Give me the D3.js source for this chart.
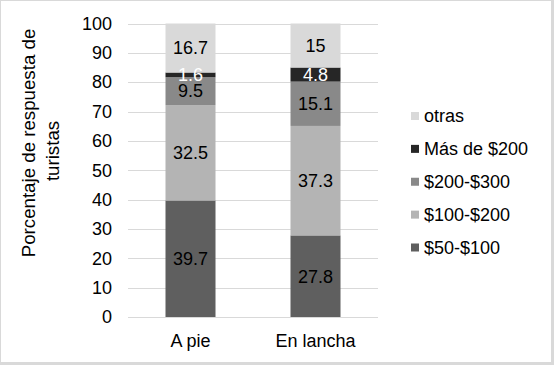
<!DOCTYPE html>
<html>
<head>
<meta charset="utf-8">
<script src="https://cdn.jsdelivr.net/npm/d3@7"></script>
<style>
  body { margin: 0; background: #fff; }
  svg text { font-family: "Liberation Sans", Arial, sans-serif; }
</style>
</head>
<body>
<svg id="chart" width="554" height="365"></svg>
<script>
// data
let categories = ['A pie', 'En lancha'];
let seriesNames = ['$50-$100', '$100-$200', '$200-$300', 'Más de $200', 'otras'];
let v50_100 = [39.7, 27.8];
let v100_200 = [32.5, 37.3];
let v200_300 = [9.5, 15.1];
let vMas200 = [1.6, 4.8];
let vOtras = [16.7, 15];
let yTicks = [0, 10, 20, 30, 40, 50, 60, 70, 80, 90, 100];

let colors = ['#5f5f5f', '#b4b4b4', '#898989', '#262626', '#d9d9d9'];
let labelColors = ['#000', '#000', '#000', '#fff', '#000'];

let values = [v50_100, v100_200, v200_300, vMas200, vOtras];
let rows = categories.map((c, i) => {
  let r = { cat: c };
  seriesNames.forEach((s, j) => (r[s] = values[j][i]));
  return r;
});

let width = 554;
let height = 365;
let fontSize = 18;

let svg = d3.select('#chart');

svg.append('rect').attr('width', width).attr('height', height).attr('fill', '#d9d9d9');
svg.append('rect').attr('x', 1).attr('y', 1).attr('width', 550).attr('height', 361).attr('fill', '#fff');

let x = d3.scaleBand().domain(categories).range([128, 378]).paddingInner(0.6).paddingOuter(0.3);
let y = d3.scaleLinear().domain([0, 100]).range([317, 23.5]);

// gridlines
svg.append('g')
  .selectAll('line')
  .data(yTicks)
  .join('line')
  .attr('x1', 128)
  .attr('x2', 378)
  .attr('y1', (d) => Math.round(y(d)) + 0.5)
  .attr('y2', (d) => Math.round(y(d)) + 0.5)
  .attr('stroke', '#d9d9d9')
  .attr('stroke-width', 1);

// y axis labels
let yAxis = d3.axisLeft(y).tickValues(yTicks).tickSize(0).tickPadding(0);
svg.append('g')
  .attr('transform', 'translate(112,0)')
  .call(yAxis)
  .call((g) => g.select('.domain').remove())
  .selectAll('text')
  .attr('font-size', fontSize)
  .attr('font-family', '"Liberation Sans", Arial, sans-serif')
  .attr('fill', '#000');

// x axis labels
let xAxis = d3.axisBottom(x).tickSize(0).tickPadding(0);
svg.append('g')
  .attr('transform', 'translate(0,334)')
  .call(xAxis)
  .call((g) => g.select('.domain').remove())
  .selectAll('text')
  .attr('font-size', fontSize)
  .attr('font-family', '"Liberation Sans", Arial, sans-serif')
  .attr('fill', '#000');

let stacked = d3.stack().keys(seriesNames)(rows);

let layers = svg.append('g')
  .selectAll('g')
  .data(stacked)
  .join('g')
  .attr('fill', (d, i) => colors[i]);

layers.selectAll('rect')
  .data((d) => d)
  .join('rect')
  .attr('x', (d) => x(d.data.cat))
  .attr('width', x.bandwidth())
  .attr('y', (d) => y(d[1]))
  .attr('height', (d) => y(d[0]) - y(d[1]));

// data labels
stacked.forEach((layer, i) => {
  svg.append('g')
    .selectAll('text')
    .data(layer)
    .join('text')
    .attr('x', (d) => x(d.data.cat) + x.bandwidth() / 2)
    .attr('y', (d) => y((d[0] + d[1]) / 2))
    .attr('dy', '0.35em')
    .attr('text-anchor', 'middle')
    .attr('font-size', fontSize)
    .attr('fill', labelColors[i])
    .text((d) => d.data[layer.key]);
});

// y axis title, two lines
svg.append('text')
  .attr('transform', 'translate(35,143) rotate(-90)')
  .attr('font-size', 18.7)
  .attr('text-anchor', 'middle')
  .attr('fill', '#000')
  .text('Porcentaje de respuesta de');
svg.append('text')
  .attr('transform', 'translate(59,151) rotate(-90)')
  .attr('font-size', 18.7)
  .attr('text-anchor', 'middle')
  .attr('fill', '#000')
  .text('turistas');

// legend (top to bottom: reverse order)
let legendItems = seriesNames.map((s, i) => ({ name: s, color: colors[i] })).reverse();
let ly = d3.scalePoint().domain(legendItems.map((d) => d.name)).range([116, 247.5]);

let legend = svg.append('g')
  .selectAll('g')
  .data(legendItems)
  .join('g')
  .attr('transform', (d) => `translate(411,${ly(d.name)})`);

legend.append('rect')
  .attr('x', 0)
  .attr('y', -4)
  .attr('width', 8)
  .attr('height', 8)
  .attr('fill', (d) => d.color);

legend.append('text')
  .attr('x', 13)
  .attr('dy', '0.35em')
  .attr('font-size', fontSize)
  .attr('fill', '#000')
  .text((d) => d.name);
</script>
</body>
</html>
